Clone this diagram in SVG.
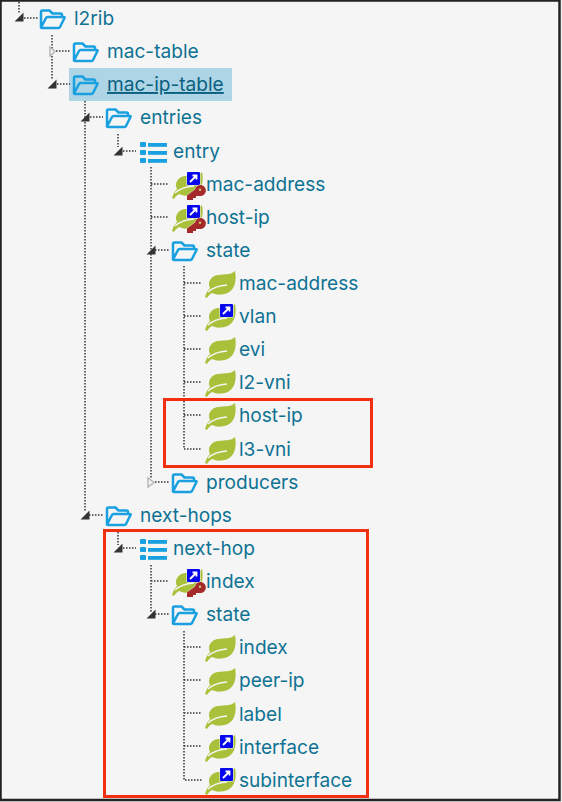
<svg xmlns="http://www.w3.org/2000/svg" xmlns:xlink="http://www.w3.org/1999/xlink" width="562" height="802" viewBox="0 0 562 802">
<style>
.t{font-family:"Inter","Liberation Sans",sans-serif;font-size:19.1px;fill:#0e7293}
.d{fill:none;stroke:#333;stroke-width:1.5;stroke-dasharray:1.5 1.5}
.on{fill:#333}
.off{fill:#f5f5f5;stroke:#b5b5b5;stroke-width:1.4}
.box{fill:none;stroke:#f23010;stroke-width:3}
</style>
<defs>
<g id="folder"><path d="M1 10V-6Q1-7.500 2.500-7.500H9.500L12.500-4.500H20.500Q22-4.500 22-3V-1M1 9.500Q1 10 2 10H18.500Q19.500 10 20 9L24.500 0Q25-1 23.500-1H7.500Q6.500-1 6 0L1 9.500" fill="none" stroke="#18a0e0" stroke-width="2.500" stroke-linejoin="round"/></g>
<g id="list" fill="#18a0e0"><rect x="0" y="-9" width="6" height="5" rx="1"/><rect x="0" y="-1" width="6" height="5" rx="1"/><rect x="0" y="7" width="6" height="5" rx="1"/><rect x="8" y="-8" width="19" height="3.800"/><rect x="8" y="0" width="19" height="3.800"/><rect x="8" y="8" width="19" height="3.800"/></g>
<g id="leaf"><path d="M-1 14C0 10 2 7 4 5C1-1 5-7 12-8C19-9 25-8 29-12C31-2 29 11 15 11.500C11 12 8 11 6 10C4 11 2 13 1 15Z" fill="#a9c13a"/><path d="M2 9C7 4.500 13 2.500 21 2" fill="none" stroke="#f5f5f5" stroke-width="1.500"/></g>
<g id="link"><rect x="-0.500" y="-0.500" width="14" height="14" rx="1" fill="#f5f5f5"/><rect x="0" y="0" width="13" height="13" rx="1" fill="#0505ee"/><path d="M3 10L9 4M5.500 3.500H9.500V7.500" fill="none" stroke="#fff" stroke-width="1.800"/></g>
<g id="key"><path d="M0 14V9.500L8 3.500A5.500 5.500 0 1 1 13 10H9V12H6V14Z" fill="#a52a2a" stroke="#f5f5f5" stroke-width="0.800" paint-order="stroke"/><circle cx="13" cy="3.800" r="1.200" fill="#d8c070"/></g>
</defs>
<rect width="562" height="802" fill="#f5f5f5"/>
<rect x="0.500" y="0.500" width="559" height="799.500" fill="none" stroke="#222" stroke-width="2.500"/>
<rect x="69" y="68" width="163" height="33" fill="#add5e5"/>
<g id="connectors">
<path class="d" d="M19 2V14M24 18H38M52 35V80M56 51H70M57 84H70M85 101V512M90 117H103M89 515H103M118 134V147M123 151H136M151 167V478M151 184H169M151 217H169M155 250H169M155 482H169M184 266V449H202M184 283H202M184 316H202M184 349H202M184 382H202M184 415H202M118 532V545M123 548H136M151 565V612M151 581H169M155 614H169M184 631V780H202M184 647H202M184 680H202M184 713H202M184 746H202"/>
<path class="on" d="M23.500 12.500V21.500H14.500Z M56.500 79.500V88.500H47.500Z M89.500 112.500V121.500H80.500Z M122.500 146.500V155.500H113.500Z M155.500 245.500V254.500H146.500Z M89.500 510.500V519.500H80.500Z M122.500 543.500V552.500H113.500Z M155.500 609.500V618.500H146.500Z"/>
<path class="off" d="M50 47V56L55 51.500Z M148 478V487L154 482.500Z"/>
</g>
<g id="n-l2rib"><use href="#folder" x="40" y="18"/><text class="t" x="74" y="25">l2rib</text></g>
<g id="n-mac-table"><use href="#folder" x="73" y="51"/><text class="t" x="107" y="58">mac-table</text></g>
<g id="n-mac-ip-table"><use href="#folder" x="73" y="84"/><text class="t" x="107" y="91" text-decoration="underline" style="fill:#0a5f80">mac-ip-table</text></g>
<g id="n-entries"><use href="#folder" x="106" y="117"/><text class="t" x="140" y="124">entries</text></g>
<g id="n-entry"><use href="#list" x="140" y="151"/><text class="t" x="173" y="158">entry</text></g>
<g id="n-mac-address-key"><use href="#leaf" x="173" y="184"/><use href="#link" x="187" y="172"/><use href="#key" x="187" y="186"/><text class="t" x="206" y="191">mac-address</text></g>
<g id="n-host-ip-key"><use href="#leaf" x="173" y="217"/><use href="#link" x="187" y="205"/><use href="#key" x="187" y="219"/><text class="t" x="206" y="224">host-ip</text></g>
<g id="n-state"><use href="#folder" x="172" y="250"/><text class="t" x="206" y="257">state</text></g>
<g id="n-state-mac-address"><use href="#leaf" x="206" y="283"/><text class="t" x="239" y="290">mac-address</text></g>
<g id="n-vlan"><use href="#leaf" x="206" y="316"/><use href="#link" x="220" y="304"/><text class="t" x="239" y="323">vlan</text></g>
<g id="n-evi"><use href="#leaf" x="206" y="349"/><text class="t" x="239" y="356">evi</text></g>
<g id="n-l2-vni"><use href="#leaf" x="206" y="382"/><text class="t" x="239" y="389">l2-vni</text></g>
<g id="n-host-ip"><use href="#leaf" x="206" y="415"/><text class="t" x="239" y="422">host-ip</text></g>
<g id="n-l3-vni"><use href="#leaf" x="206" y="449"/><text class="t" x="239" y="456">l3-vni</text></g>
<g id="n-producers"><use href="#folder" x="172" y="482"/><text class="t" x="206" y="489">producers</text></g>
<g id="n-next-hops"><use href="#folder" x="106" y="515"/><text class="t" x="140" y="522">next-hops</text></g>
<g id="n-next-hop"><use href="#list" x="140" y="548"/><text class="t" x="173" y="555">next-hop</text></g>
<g id="n-index-key"><use href="#leaf" x="173" y="581"/><use href="#link" x="187" y="569"/><use href="#key" x="187" y="583"/><text class="t" x="206" y="588">index</text></g>
<g id="n-state2"><use href="#folder" x="172" y="614"/><text class="t" x="206" y="621">state</text></g>
<g id="n-index"><use href="#leaf" x="206" y="647"/><text class="t" x="239" y="654">index</text></g>
<g id="n-peer-ip"><use href="#leaf" x="206" y="680"/><text class="t" x="239" y="687">peer-ip</text></g>
<g id="n-label"><use href="#leaf" x="206" y="714"/><text class="t" x="239" y="721">label</text></g>
<g id="n-interface"><use href="#leaf" x="206" y="747"/><use href="#link" x="220" y="735"/><text class="t" x="239" y="754">interface</text></g>
<g id="n-subinterface"><use href="#leaf" x="206" y="780"/><use href="#link" x="220" y="768"/><text class="t" x="239" y="787">subinterface</text></g>
<rect class="box" x="164.500" y="399.500" width="207" height="67"/>
<rect class="box" x="104.500" y="530.500" width="263" height="266"/>
</svg>
